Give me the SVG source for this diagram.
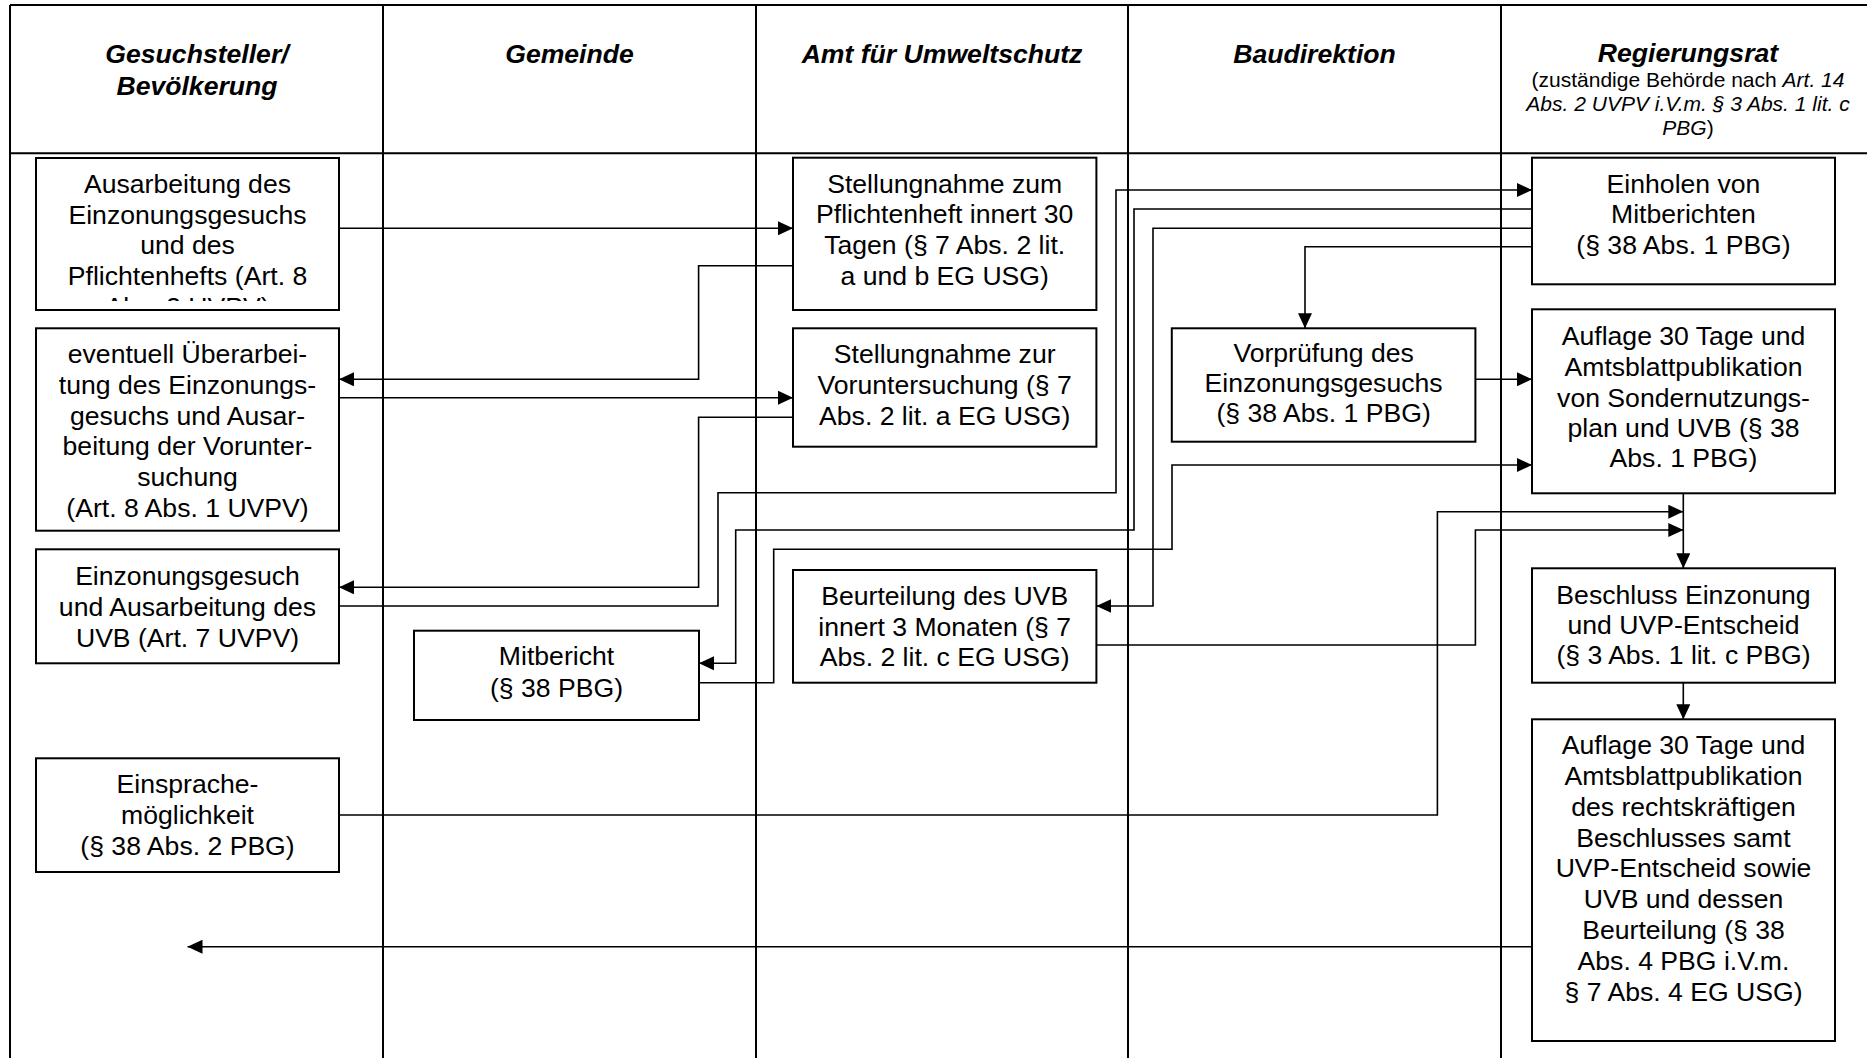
<svg xmlns="http://www.w3.org/2000/svg" width="1867" height="1058" viewBox="0 0 1867 1058">
<style>
.grid{stroke:#000;stroke-width:2;fill:none}
.box{fill:#fff;stroke:#000;stroke-width:2}
.t{font-family:"Liberation Sans",Arial,sans-serif;font-size:26.6px;fill:#000;text-anchor:middle}
.h{font-family:"Liberation Sans",Arial,sans-serif;font-size:26.6px;font-weight:bold;font-style:italic;fill:#000;text-anchor:middle}
.s{font-family:"Liberation Sans",Arial,sans-serif;font-size:21px;fill:#000;text-anchor:middle}
.i{font-style:italic}
.c{fill:none;stroke:#000;stroke-width:1.6}
.ca{fill:none;stroke:#000;stroke-width:1.6;marker-end:url(#ah)}
</style>
<defs>
<marker id="ah" markerUnits="userSpaceOnUse" markerWidth="15" markerHeight="14" refX="15" refY="7" orient="auto">
<path d="M0,0 L15,7 L0,14 Z" fill="#000"/>
</marker>
<clipPath id="clip1"><rect x="37" y="159" width="301" height="142"/></clipPath>
</defs>
<rect width="1867" height="1058" fill="#fff"/>
<g id="table">
<path class="grid" d="M10,5 H1867 M10,153.3 H1867 M10,5 V1058 M383,5 V1058 M756,5 V1058 M1128,5 V1058 M1501,5 V1058"/>
<text class="h" x="197" y="62.7">Gesuchsteller/</text>
<text class="h" x="197" y="95">Bevölkerung</text>
<text class="h" x="569.5" y="62.7">Gemeinde</text>
<text class="h" x="942" y="62.7">Amt für Umweltschutz</text>
<text class="h" x="1314.5" y="62.7">Baudirektion</text>
<text class="h" x="1688" y="62">Regierungsrat</text>
<text class="s" x="1688" y="87.3">(zuständige Behörde nach <tspan class="i">Art. 14</tspan></text>
<text class="s i" x="1688" y="111">Abs. 2 UVPV i.V.m. § 3 Abs. 1 lit. c</text>
<text class="s" x="1688" y="135"><tspan class="i">PBG</tspan>)</text>
</g>
<g id="connectors">
<path class="ca" d="M339,228.3 H793"/>
<path class="ca" d="M793,265.7 H698.6 V379.3 H339"/>
<path class="ca" d="M339,397.7 H793"/>
<path class="ca" d="M793,417.3 H698.6 V587.3 H339"/>
<path class="ca" d="M339,606 H718 V492.7 H1116 V190 H1532"/>
<path class="ca" d="M1532,209 H1134 V530 H735.7 V663.3 H699"/>
<path class="ca" d="M1532,228.3 H1153 V606 H1096.4"/>
<path class="ca" d="M1532,246.7 H1305 V328.3"/>
<path class="ca" d="M1475.4,379.3 H1532"/>
<path class="ca" d="M699,682.7 H773.7 V549.3 H1172 V465 H1532"/>
<path class="ca" d="M1683.3,493.3 V568.3"/>
<path class="ca" d="M339,815 H1437.4 V511.7 H1683.3"/>
<path class="ca" d="M1096.4,645 H1475.4 V530 H1683.3"/>
<path class="ca" d="M1683.3,682.7 V719.3"/>
<path class="ca" d="M1532,946.7 H187.5"/>
</g>
<g id="n-ausarbeitung">
<rect class="box" x="36" y="158" width="303" height="152"/>
<g clip-path="url(#clip1)">
<text class="t" x="187.5" y="193">Ausarbeitung des</text>
<text class="t" x="187.5" y="223.5">Einzonungsgesuchs</text>
<text class="t" x="187.5" y="254">und des</text>
<text class="t" x="187.5" y="285">Pflichtenhefts (Art. 8</text>
<text class="t" x="187.5" y="316">Abs. 2 UVPV)</text>
</g>
</g>
<g id="n-ueberarbeitung">
<rect class="box" x="36" y="328.3" width="303" height="202.4"/>
<text class="t" x="187.5" y="363.3">eventuell Überarbei-</text>
<text class="t" x="187.5" y="394">tung des Einzonungs-</text>
<text class="t" x="187.5" y="424.5">gesuchs und Ausar-</text>
<text class="t" x="187.5" y="455">beitung der Vorunter-</text>
<text class="t" x="187.5" y="485.5">suchung</text>
<text class="t" x="187.5" y="516.5">(Art. 8 Abs. 1 UVPV)</text>
</g>
<g id="n-einzonungsgesuch">
<rect class="box" x="36" y="549.3" width="303" height="114"/>
<text class="t" x="187.5" y="585">Einzonungsgesuch</text>
<text class="t" x="187.5" y="615.5">und Ausarbeitung des</text>
<text class="t" x="187.5" y="646.5">UVB (Art. 7 UVPV)</text>
</g>
<g id="n-einsprache">
<rect class="box" x="36" y="758.3" width="303" height="113.7"/>
<text class="t" x="187.5" y="793">Einsprache-</text>
<text class="t" x="187.5" y="823.5">möglichkeit</text>
<text class="t" x="187.5" y="855">(§ 38 Abs. 2 PBG)</text>
</g>
<g id="n-mitbericht">
<rect class="box" x="414" y="630.7" width="285" height="89.3"/>
<text class="t" x="556.5" y="665">Mitbericht</text>
<text class="t" x="556.5" y="696.5">(§ 38 PBG)</text>
</g>
<g id="n-stellungnahme-pflichtenheft">
<rect class="box" x="793" y="157.7" width="303.4" height="152.3"/>
<text class="t" x="944.7" y="193.3">Stellungnahme zum</text>
<text class="t" x="944.7" y="223">Pflichtenheft innert 30</text>
<text class="t" x="944.7" y="254">Tagen (§ 7 Abs. 2 lit.</text>
<text class="t" x="944.7" y="285">a und b EG USG)</text>
</g>
<g id="n-stellungnahme-voruntersuchung">
<rect class="box" x="793" y="328.3" width="303.4" height="118.4"/>
<text class="t" x="944.7" y="363.3">Stellungnahme zur</text>
<text class="t" x="944.7" y="394.3">Voruntersuchung (§ 7</text>
<text class="t" x="944.7" y="424.5">Abs. 2 lit. a EG USG)</text>
</g>
<g id="n-beurteilung">
<rect class="box" x="793" y="570" width="303.4" height="112.7"/>
<text class="t" x="944.7" y="605">Beurteilung des UVB</text>
<text class="t" x="944.7" y="635.5">innert 3 Monaten (§ 7</text>
<text class="t" x="944.7" y="665.5">Abs. 2 lit. c EG USG)</text>
</g>
<g id="n-vorpruefung">
<rect class="box" x="1171.8" y="328.3" width="303.6" height="113.4"/>
<text class="t" x="1323.6" y="361.7">Vorprüfung des</text>
<text class="t" x="1323.6" y="392">Einzonungsgesuchs</text>
<text class="t" x="1323.6" y="422">(§ 38 Abs. 1 PBG)</text>
</g>
<g id="n-einholen">
<rect class="box" x="1532" y="157.7" width="303" height="126.6"/>
<text class="t" x="1683.5" y="192.7">Einholen von</text>
<text class="t" x="1683.5" y="223">Mitberichten</text>
<text class="t" x="1683.5" y="253.5">(§ 38 Abs. 1 PBG)</text>
</g>
<g id="n-auflage1">
<rect class="box" x="1532" y="309.3" width="303" height="184"/>
<text class="t" x="1683.5" y="345">Auflage 30 Tage und</text>
<text class="t" x="1683.5" y="375.5">Amtsblattpublikation</text>
<text class="t" x="1683.5" y="406.5">von Sondernutzungs-</text>
<text class="t" x="1683.5" y="437">plan und UVB (§ 38</text>
<text class="t" x="1683.5" y="467">Abs. 1 PBG)</text>
</g>
<g id="n-beschluss">
<rect class="box" x="1532" y="568.3" width="303" height="114.4"/>
<text class="t" x="1683.5" y="604">Beschluss Einzonung</text>
<text class="t" x="1683.5" y="634">und UVP-Entscheid</text>
<text class="t" x="1683.5" y="664">(§ 3 Abs. 1 lit. c PBG)</text>
</g>
<g id="n-auflage2">
<rect class="box" x="1532" y="719.3" width="303" height="321.7"/>
<text class="t" x="1683.5" y="754">Auflage 30 Tage und</text>
<text class="t" x="1683.5" y="785">Amtsblattpublikation</text>
<text class="t" x="1683.5" y="816">des rechtskräftigen</text>
<text class="t" x="1683.5" y="846.5">Beschlusses samt</text>
<text class="t" x="1683.5" y="877">UVP-Entscheid sowie</text>
<text class="t" x="1683.5" y="908">UVB und dessen</text>
<text class="t" x="1683.5" y="938.5">Beurteilung (§ 38</text>
<text class="t" x="1683.5" y="969.5">Abs. 4 PBG i.V.m.</text>
<text class="t" x="1683.5" y="1000.5">§ 7 Abs. 4 EG USG)</text>
</g>
</svg>
